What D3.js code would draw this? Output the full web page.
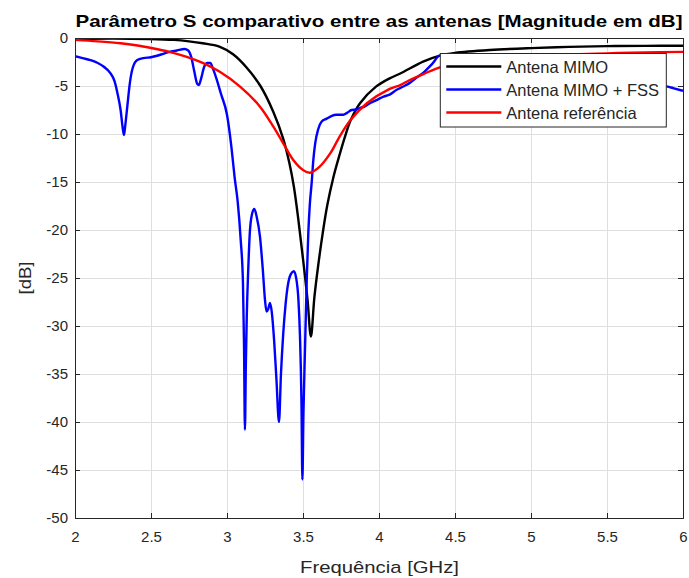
<!DOCTYPE html>
<html>
<head>
<meta charset="utf-8">
<script src="https://cdn.jsdelivr.net/npm/d3@7"></script>
<style>
  html, body { margin: 0; padding: 0; background: #fff; }
  svg { display: block; font-family: "Liberation Sans", Arial, Helvetica, sans-serif; }
</style>
</head>
<body>
<svg id="chart" width="689" height="578"></svg>
<script>
// S-parameter magnitude (dB) versus frequency (GHz) for each antenna
const freqMimo = [2.0, 2.25, 2.49, 2.65, 2.75, 2.84, 2.95, 3.04, 3.13, 3.22, 3.305, 3.37, 3.41, 3.44, 3.47, 3.50, 3.53, 3.552, 3.575, 3.60, 3.63, 3.66, 3.70, 3.74, 3.78, 3.81, 3.875, 3.98, 4.07, 4.14, 4.29, 4.40, 4.5, 4.73, 5.0, 5.25, 5.5, 5.75, 6.0];
const dbMimo   = [-0.1, -0.05, -0.1, -0.2, -0.35, -0.55, -0.9, -1.7, -3.1, -5.0, -7.7, -10.5, -13.0, -15.5, -19.0, -23.0, -27.3, -31.1, -27.0, -23.7, -20.3, -17.4, -14.5, -12.2, -10.1, -8.7, -6.8, -5.07, -4.2, -3.7, -2.47, -1.84, -1.55, -1.25, -1.05, -0.92, -0.85, -0.82, -0.8];

const freqFss = [2.0, 2.05, 2.1, 2.15, 2.19, 2.23, 2.26, 2.28, 2.30, 2.315, 2.322, 2.33, 2.345, 2.36, 2.38, 2.41, 2.45, 2.5, 2.54, 2.58, 2.62, 2.67, 2.72, 2.745, 2.765, 2.785, 2.805, 2.815, 2.83, 2.85, 2.87, 2.89, 2.91, 2.93, 2.96, 3.0, 3.03, 3.05, 3.07, 3.09, 3.105, 3.112, 3.118, 3.124, 3.13, 3.14, 3.15, 3.165, 3.18, 3.195, 3.217, 3.235, 3.25, 3.26, 3.272, 3.283, 3.295, 3.31, 3.325, 3.342, 3.355, 3.37, 3.385, 3.40, 3.42, 3.44, 3.455, 3.47, 3.48, 3.49, 3.496, 3.503, 3.513, 3.525, 3.535, 3.545, 3.557, 3.568, 3.58, 3.60, 3.623, 3.656, 3.69, 3.72, 3.765, 3.79, 3.82, 3.85, 3.875, 3.91, 3.94, 3.98, 4.03, 4.07, 4.116, 4.16, 4.2, 4.25, 4.3, 4.35, 4.4, 4.45, 4.55, 4.7, 4.9, 5.1, 5.3, 5.5, 5.7, 5.85, 5.9, 5.94, 6.0];
const dbFss   = [-1.9, -2.1, -2.3, -2.6, -3.0, -3.6, -4.5, -5.8, -7.5, -9.5, -10.1, -9.2, -7.0, -4.8, -3.1, -2.3, -2.1, -2.0, -1.85, -1.65, -1.45, -1.3, -1.15, -1.3, -2.0, -3.5, -4.8, -4.9, -4.2, -3.0, -2.6, -2.6, -3.3, -4.2, -5.8, -8.0, -11.5, -14.5, -17.0, -21.0, -25.5, -32.0, -40.8, -34.0, -29.0, -24.0, -20.3, -18.3, -17.8, -18.6, -20.7, -24.0, -27.3, -28.5, -28.2, -27.6, -28.6, -31.5, -35.5, -40.0, -35.0, -30.8, -27.8, -25.8, -24.6, -24.3, -25.0, -27.3, -31.0, -38.0, -46.0, -39.0, -32.5, -25.0, -20.3, -17.3, -15.1, -12.7, -11.0, -9.5, -8.7, -8.4, -8.1, -8.0, -8.0, -7.8, -7.5, -7.45, -7.3, -7.1, -6.8, -6.5, -6.1, -5.9, -5.4, -5.05, -4.7, -4.1, -3.5, -2.7, -1.84, -1.9, -2.0, -2.2, -2.6, -3.1, -3.6, -4.1, -4.6, -4.95, -5.07, -5.24, -5.5];

const freqRef = [2.0, 2.15, 2.3, 2.4, 2.51, 2.62, 2.73, 2.84, 2.95, 3.086, 3.217, 3.305, 3.37, 3.436, 3.50, 3.546, 3.61, 3.68, 3.74, 3.81, 3.92, 4.07, 4.14, 4.2, 4.3, 4.4, 4.5, 4.75, 5.0, 5.25, 5.5, 5.75, 6.0];
const dbRef   = [-0.2, -0.35, -0.55, -0.75, -1.07, -1.45, -1.94, -2.6, -3.5, -5.07, -7.15, -9.24, -10.97, -12.7, -13.75, -14.03, -13.4, -12.0, -10.3, -8.6, -6.8, -5.3, -4.9, -4.4, -3.7, -3.05, -2.7, -2.2, -1.9, -1.72, -1.6, -1.5, -1.45];

const seriesNames  = ["Antena MIMO", "Antena MIMO + FSS", "Antena referência"];
const seriesColors = ["#000000", "#0000ff", "#ff0000"];

const xTicks = [2, 2.5, 3, 3.5, 4, 4.5, 5, 5.5, 6];
const yTicks = [0, -5, -10, -15, -20, -25, -30, -35, -40, -45, -50];

const titleText  = "Parâmetro S comparativo entre as antenas [Magnitude em dB]";
const xLabelText = "Frequência [GHz]";
const yLabelText = "[dB]";

// ---- layout ----
const margin = { left: 75, top: 38, right: 6, bottom: 60 };
const W = 689, H = 578;
const pw = W - margin.left - margin.right;   // 608
const ph = H - margin.top - margin.bottom;   // 480

const svg = d3.select("#chart");
const g = svg.append("g").attr("transform", `translate(${margin.left},${margin.top})`);

const x = d3.scaleLinear().domain([2, 6]).range([0, pw]);
const y = d3.scaleLinear().domain([-50, 0]).range([ph, 0]);

const axisColor = "#262626";
const fmt = d => String(d);   // plain hyphen-minus in tick labels

// grid
g.append("g").selectAll("line").data(xTicks).join("line")
  .attr("x1", d => x(d)).attr("x2", d => x(d)).attr("y1", 0).attr("y2", ph)
  .attr("stroke", "#dfdfdf").attr("stroke-width", 1).attr("shape-rendering", "crispEdges");
g.append("g").selectAll("line").data(yTicks).join("line")
  .attr("x1", 0).attr("x2", pw).attr("y1", d => y(d)).attr("y2", d => y(d))
  .attr("stroke", "#dfdfdf").attr("stroke-width", 1).attr("shape-rendering", "crispEdges");

// curves
svg.append("defs").append("clipPath").attr("id", "plotClip").append("rect")
  .attr("x", 0).attr("y", 0).attr("width", pw).attr("height", ph);

const smooth = d3.curveCatmullRom.alpha(0.5);
const series = [
  { f: freqMimo, v: dbMimo, curve: smooth },
  { f: freqFss,  v: dbFss,  curve: d3.curveMonotoneX },
  { f: freqRef,  v: dbRef,  curve: smooth }
];

const plot = g.append("g").attr("clip-path", "url(#plotClip)");
series.forEach((s, i) => {
  const line = d3.line()
    .x(d => x(d[0])).y(d => y(d[1]))
    .curve(s.curve);
  plot.append("path")
    .datum(s.f.map((f, k) => [f, s.v[k]]))
    .attr("fill", "none")
    .attr("stroke", seriesColors[i])
    .attr("stroke-width", 2.4)
    .attr("stroke-linejoin", "round")
    .attr("d", line);
});

// axes (inward ticks, boxed)
const tickLen = 5;
const xAxis = d3.axisBottom(x).tickValues(xTicks).tickSize(-tickLen).tickPadding(13).tickFormat(fmt);
const yAxis = d3.axisLeft(y).tickValues(yTicks).tickSize(-tickLen).tickPadding(7).tickFormat(fmt);

const gx = g.append("g").attr("transform", `translate(0,${ph})`).call(xAxis);
const gy = g.append("g").call(yAxis);
const gxt = g.append("g").call(d3.axisTop(x).tickValues(xTicks).tickSize(-tickLen).tickFormat(""));
const gyr = g.append("g").attr("transform", `translate(${pw},0)`)
  .call(d3.axisRight(y).tickValues(yTicks).tickSize(-tickLen).tickFormat(""));

[gx, gy, gxt, gyr].forEach(a => {
  a.select(".domain").attr("stroke", axisColor).attr("stroke-width", 1);
  a.selectAll(".tick line").attr("stroke", axisColor);
  a.selectAll(".tick text").attr("fill", axisColor)
    .style("font-family", "'Liberation Sans', Arial, sans-serif").style("font-size", "15px");
});

// titles
svg.append("text")
  .attr("x", margin.left + 0.5).attr("y", 27)
  .attr("textLength", pw - 1).attr("lengthAdjust", "spacingAndGlyphs")
  .style("font-size", "16.5px").style("font-weight", "bold")
  .attr("fill", "#000")
  .text(titleText);

svg.append("text")
  .attr("x", 300).attr("y", 573)
  .attr("textLength", 159).attr("lengthAdjust", "spacingAndGlyphs")
  .style("font-size", "17px")
  .attr("fill", axisColor)
  .text(xLabelText);

svg.append("text")
  .attr("transform", `translate(31,${margin.top + ph / 2}) rotate(-90)`)
  .attr("x", -16.5)
  .attr("textLength", 33).attr("lengthAdjust", "spacingAndGlyphs")
  .style("font-size", "17px")
  .attr("fill", axisColor)
  .text(yLabelText);

// legend
const lg = g.append("g").attr("transform", `translate(${x(4.4) + 0.5},${15.5})`);
lg.append("rect")
  .attr("x", 0).attr("y", 0).attr("width", 226).attr("height", 73.5)
  .attr("fill", "#fff").attr("stroke", axisColor).attr("stroke-width", 1);
seriesNames.forEach((name, i) => {
  const cy = 13 + i * 23;
  lg.append("line")
    .attr("x1", 6).attr("x2", 61).attr("y1", cy).attr("y2", cy)
    .attr("stroke", seriesColors[i]).attr("stroke-width", 2.4);
  lg.append("text")
    .attr("x", 66).attr("y", cy + 6)
    .style("font-size", "16.5px")
    .attr("fill", axisColor)
    .text(name);
});
</script>
</body>
</html>
